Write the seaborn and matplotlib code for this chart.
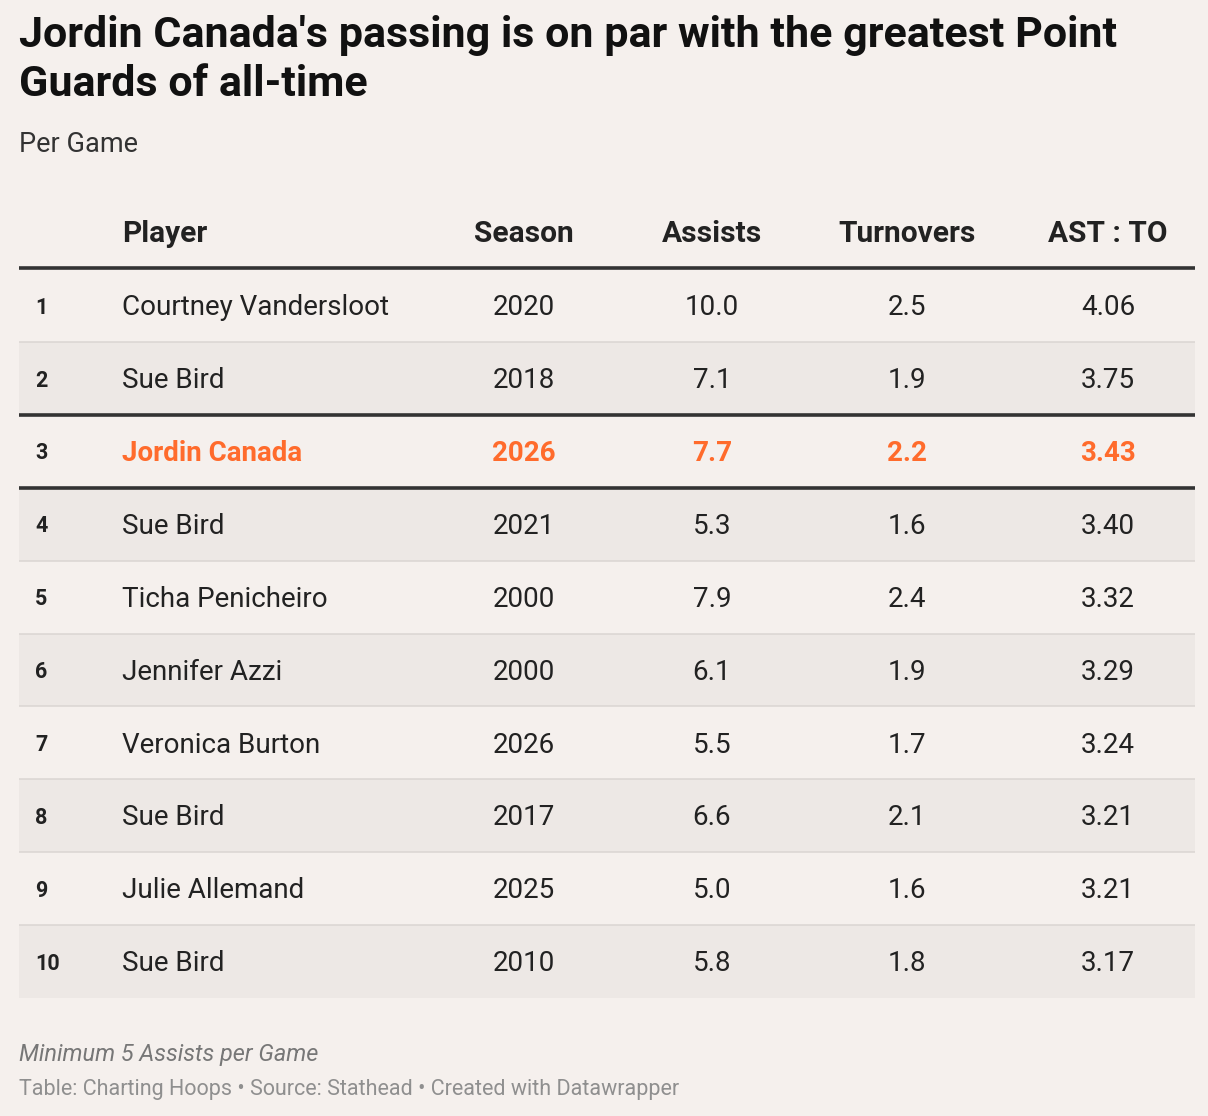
import matplotlib.pyplot as plt
import numpy as np
import pandas as pd
import seaborn as sns
from matplotlib.colors import ListedColormap
from matplotlib.transforms import blended_transform_factory

# Table values
ranks = [1, 2, 3, 4, 5, 6, 7, 8, 9, 10]
players = ["Courtney Vandersloot", "Sue Bird", "Jordin Canada", "Sue Bird",
           "Ticha Penicheiro", "Jennifer Azzi", "Veronica Burton", "Sue Bird",
           "Julie Allemand", "Sue Bird"]
seasons = [2020, 2018, 2026, 2021, 2000, 2000, 2026, 2017, 2025, 2010]
assists = [10.0, 7.1, 7.7, 5.3, 7.9, 6.1, 5.5, 6.6, 5.0, 5.8]
turnovers = [2.5, 1.9, 2.2, 1.6, 2.4, 1.9, 1.7, 2.1, 1.6, 1.8]
ast_to = [4.06, 3.75, 3.43, 3.40, 3.32, 3.29, 3.24, 3.21, 3.21, 3.17]
highlight = "Jordin Canada"

BG = "#f5f0ed"
STRIPE = "#ede8e5"
ORANGE = "#ff6b2c"
INK = "#222222"
W, H = 1208, 1116

sns.set_theme(style="white")
plt.rcParams["font.family"] = ["Roboto", "DejaVu Sans"]

df = pd.DataFrame({"rank": ranks, "player": players, "season": seasons,
                   "ast": assists, "to": turnovers, "ratio": ast_to})
df["stripe"] = (df["rank"] % 2 == 0).astype(int)

fig = plt.figure(figsize=(W / 100, H / 100), dpi=100, facecolor=BG)


def fx(px):
    return px / W


def fy(py):
    return 1 - py / H


# table body axes
top, bottom, left, right = 269, 998, 19, 1195
ax = fig.add_axes([fx(left), fy(bottom), fx(right - left), (bottom - top) / H])
sns.heatmap(df[["stripe"]], ax=ax, cmap=ListedColormap([BG, STRIPE]),
            cbar=False, vmin=0, vmax=1, xticklabels=False, yticklabels=False)
ax.set_xlabel("")
ax.set_ylabel("")
for s in ax.spines.values():
    s.set_visible(False)

tr = blended_transform_factory(ax.transAxes, ax.transData)
width = right - left


def ax_x(px):
    return (px - left) / width


# thin row separators
for i in range(1, len(df)):
    ax.plot([0, 1], [i, i], transform=tr, color="#dcd7d4", lw=1.2, zorder=3)

# thick lines around highlighted row
hi = df.index[df["player"] == highlight][0]
for yv in (hi, hi + 1):
    ax.plot([0, 1], [yv, yv], transform=tr, color="#333333", lw=2.6,
            zorder=4, solid_capstyle="butt")

cols = [("season", 524, "{:d}"), ("ast", 712, "{:.1f}"),
        ("to", 907, "{:.1f}"), ("ratio", 1108, "{:.2f}")]
for i, row in df.iterrows():
    y = i + 0.53
    is_hi = row["player"] == highlight
    c = ORANGE if is_hi else INK
    wt = "bold" if is_hi else "normal"
    ax.text(ax_x(35), y, str(row["rank"]), transform=tr, ha="left",
            va="center", fontsize=15.5, fontweight="bold", color=INK)
    ax.text(ax_x(122), y, row["player"], transform=tr, ha="left",
            va="center", fontsize=20, fontweight=wt, color=c)
    for key, xc, fmt in cols:
        ax.text(ax_x(xc), y, fmt.format(row[key]), transform=tr, ha="center",
                va="center", fontsize=20, fontweight=wt, color=c)

# header
fig.text(fx(122), fy(234), "Player", ha="left", va="center", fontsize=21.5,
         fontweight="bold", color=INK)
for label, xc in [("Season", 524), ("Assists", 712), ("Turnovers", 907),
                  ("AST : TO", 1108)]:
    fig.text(fx(xc), fy(234), label, ha="center", va="center", fontsize=21.5,
             fontweight="bold", color=INK)
fig.add_artist(plt.Line2D([fx(left), fx(right)], [fy(268), fy(268)],
                          color="#333333", lw=2.6, solid_capstyle="butt"))

# titles
fig.text(fx(19), fy(36), "Jordin Canada's passing is on par with the greatest Point",
         ha="left", va="center", fontsize=31, fontweight="bold", color="#111111")
fig.text(fx(19), fy(84), "Guards of all-time", ha="left", va="center",
         fontsize=31, fontweight="bold", color="#111111")
fig.text(fx(19), fy(145), "Per Game", ha="left", va="center", fontsize=19.5,
         color="#333333")

# notes
fig.text(fx(19), fy(1054), "Minimum 5 Assists per Game", ha="left", va="center",
         fontsize=16.9, style="italic", color="#777777")
fig.text(fx(19), fy(1090),
         "Table: Charting Hoops \u2022 Source: Stathead \u2022 Created with Datawrapper",
         ha="left", va="center", fontsize=15.5, color="#8f8f8f")

fig.savefig("out.png", dpi=100, facecolor=BG)
